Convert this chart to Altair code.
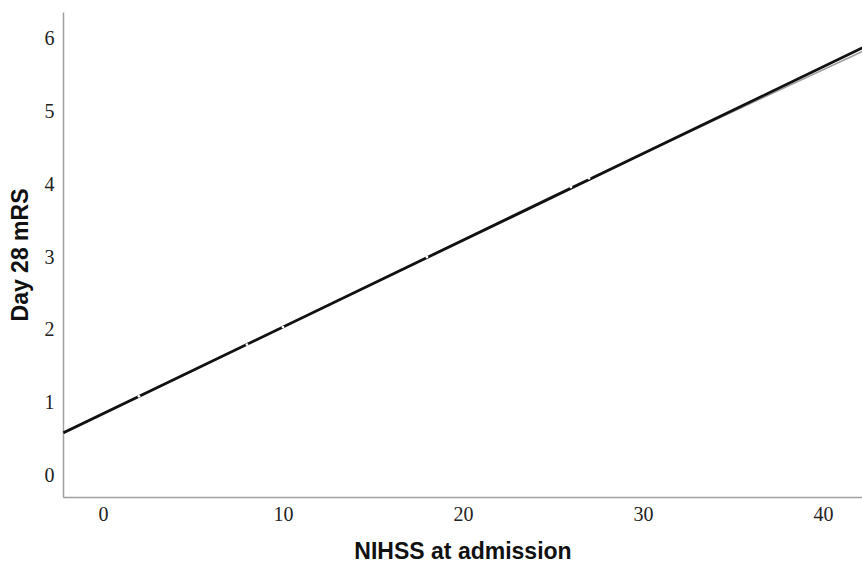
import altair as alt
import pandas as pd

# Fitted line (black) and second fit (gray)
fit_x = [-2.2, 42.2]
fit_y = [0.59, 5.87]
gray_x = [-2.2, 2, 10, 18, 26, 27, 42.2]
gray_y = [0.58, 1.08, 2.04, 3.0, 3.96, 4.07, 5.82]
# small white breaks along the line
gap_x = [2, 8, 10, 18, 26, 27]
gap_y = [1.09, 1.80, 2.04, 3.0, 3.96, 4.08]

x_ticks = [0, 10, 20, 30, 40]
y_ticks = [0, 1, 2, 3, 4, 5, 6]

fit_df = pd.DataFrame({"x": fit_x, "y": fit_y})
gray_df = pd.DataFrame({"x": gray_x, "y": gray_y})
gap_df = pd.DataFrame({"x": gap_x, "y": gap_y})

xs = alt.Scale(domain=[-2.22, 42.17], nice=False, zero=False)
ys = alt.Scale(domain=[-0.29, 6.36], nice=False, zero=False)

xax = alt.Axis(values=x_ticks, format="d", title="NIHSS at admission", grid=False, ticks=False,
               domainColor="#a0a0a0", domainWidth=1.5,
               labelFont="Liberation Serif", labelFontSize=20, labelColor="#222",
               labelPadding=7, titleFont="Liberation Sans", titleFontSize=23,
               titleFontWeight="bold", titleColor="#111", titlePadding=16)
yax = alt.Axis(values=y_ticks, format="d", title="Day 28 mRS", grid=False, ticks=False,
               domainColor="#a0a0a0", domainWidth=1.5,
               labelFont="Liberation Serif", labelFontSize=20, labelColor="#222",
               labelPadding=9, titleFont="Liberation Sans", titleFontSize=23,
               titleFontWeight="bold", titleColor="#111", titlePadding=12)

gray = alt.Chart(gray_df).mark_line(color="#9a9a9a", strokeWidth=1.4).encode(
    x=alt.X("x:Q", scale=xs, axis=xax), y=alt.Y("y:Q", scale=ys, axis=yax))
black = alt.Chart(fit_df).mark_line(color="#111111", strokeWidth=2.8).encode(
    x=alt.X("x:Q", scale=xs), y=alt.Y("y:Q", scale=ys))
gaps = alt.Chart(gap_df).mark_point(filled=True, color="white", size=8, opacity=1).encode(
    x=alt.X("x:Q", scale=xs), y=alt.Y("y:Q", scale=ys))

chart = alt.layer(gray, black, gaps).properties(
    width=799, height=485,
    autosize=alt.AutoSizeParams(type="none"),
    padding={"left": 63, "top": 12, "right": 0, "bottom": 69},
).configure(background="white").configure_view(stroke=None)

chart.save("out.html", embed_options={"renderer": "svg", "actions": False})
